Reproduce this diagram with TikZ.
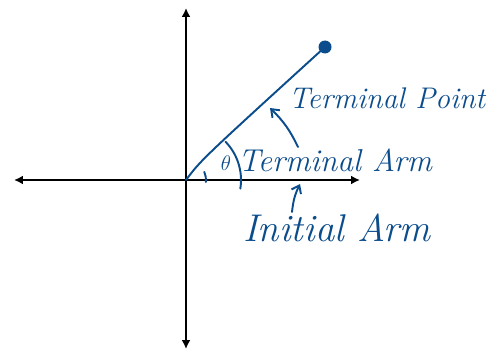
\documentclass[tikz,border=0pt]{standalone}
\usepackage{xcolor}
\usepackage{amsmath, amssymb}
\usepackage{tikz}
\usetikzlibrary{arrows.meta, calc}
\definecolor{penblue}{HTML}{0B4C8C}

\begin{document}
\begin{tikzpicture}[
  axis/.style={line width=1.3pt, {Latex[length=5pt,width=5pt]}-{Latex[length=5pt,width=5pt]}},
  pen/.style={penblue, line width=1.1pt, line cap=round},
  penarrow/.style={pen, -{Straight Barb[length=4pt,width=6pt]}},
  hand/.style={penblue, font=\fontsize{17}{20}\selectfont\itshape, inner sep=0pt}
]
\useasboundingbox (-3.72,-3.44) rectangle (6.10,3.60);
% axes
\coordinate (O) at (0,0);
\coordinate (xl) at (-3.44,0);
\coordinate (xr) at (3.48,0);
\coordinate (yt) at (0,3.44);
\coordinate (yb) at (0,-3.38);
\draw[axis] (xl) -- (xr);
\draw[axis] (yt) -- (yb);
% terminal arm and point
\coordinate (P) at (2.78,2.66);
\draw[pen] (O) .. controls (0.3,0.4) .. (P);
\fill[penblue] (P) circle (0.13);
% angle marks
\draw[pen] (-6:0.4) arc (-6:24:0.4);
\draw[pen] (-9:1.1) arc (-9:44:1.1);
\node[penblue, font=\fontsize{13}{15}\selectfont] (theta) at (0.80,0.34) {$\theta$};
% labels
\node[hand] (termpt) at (4.02,1.64) {Terminal Point};
\node[hand, font=\fontsize{18}{21}\selectfont\itshape] (termarm) at (2.98,0.40) {Terminal Arm};
\node[hand, font=\fontsize{22}{25}\selectfont\itshape] (initarm) at (3.02,-0.96) {Initial Arm};
% pointers
\coordinate (armtail) at (2.24,0.66);
\coordinate (armtip) at (1.68,1.44);
\coordinate (inittail) at (2.12,-0.64);
\coordinate (inittip) at (2.28,-0.08);
\draw[penarrow] (armtail) to[bend right=10] (armtip);
\draw[penarrow] (inittail) to[bend left=10] (inittip);
\end{tikzpicture}
\end{document}
